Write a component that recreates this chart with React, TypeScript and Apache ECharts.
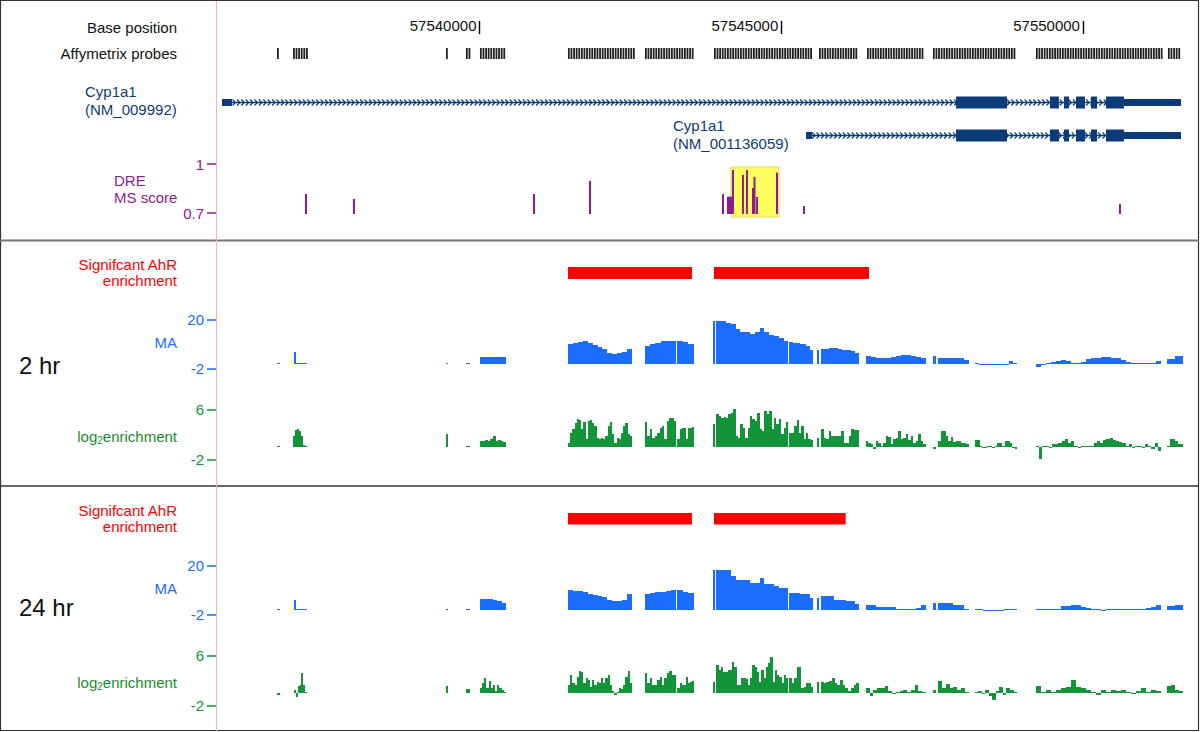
import React, { useEffect, useRef } from 'react';
import * as echarts from 'echarts';

// ---------------- data ----------------
const X_MIN = 57535634;
const X_MAX = 57551906;
const BASE_TICKS = [57540000, 57545000, 57550000];

// Affymetrix probe groups [start, end]
const PROBE_GROUPS: [number, number][] = [
  [57536645, 57536694], [57536910, 57537142], [57539445, 57539470], [57539776, 57539843],
  [57540008, 57540439], [57541466, 57542560], [57542742, 57543554], [57543886, 57545510],
  [57545626, 57546255], [57546421, 57547365], [57547514, 57548873], [57549221, 57551326],
  [57551408, 57551624],
];

// gene rows: 0 = NM_009992, 1 = NM_001136059
const GENE_SPANS: [number, number, number][] = [
  [57535733, 57551624, 0],
  [57545410, 57551624, 1],
];
const GENE_UTRS: [number, number, number][] = [
  [57535733, 57535899, 0], [57550679, 57551624, 0],
  [57545410, 57545510, 1], [57550679, 57551624, 1],
];
const GENE_CDS: [number, number][] = [
  [57547896, 57548741], [57549453, 57549602], [57549685, 57549768],
  [57549884, 57550033], [57550132, 57550232], [57550381, 57550679],
];

// DRE MS score [position, score]
const DRE_SCORES: [number, number][] = [
  [57537125, 0.816], [57537920, 0.786], [57540903, 0.816], [57541831, 0.896],
  [57544035, 0.816], [57544118, 0.80], [57544151, 0.80], [57544176, 0.80],
  [57544200, 0.964], [57544366, 0.933], [57544432, 0.964], [57544532, 0.853],
  [57544557, 0.921], [57544598, 0.798], [57544930, 0.947], [57545377, 0.743],
  [57550613, 0.755],
];
const DRE_HIGHLIGHT: [number, number, number, number][] = [[57544167, 57544963, 0.675, 0.982]];

// Significant AhR enrichment regions
const SIG_2HR: [number, number][] = [[57541466, 57543521], [57543886, 57546454]];
const SIG_24HR: [number, number][] = [[57541466, 57543521], [57543886, 57546068]];

type Seg = [number, number, number[]];

const MA_2HR: Seg[] = [
  [57536645, 57536694, [0.5]],
  [57536926, 57536959, [5.5]],
  [57536959, 57537142, [0.3]],
  [57539445, 57539478, [0.4]],
  [57539776, 57539843, [0.4]],
  [57540008, 57540439, [3.1, 3.1, 3.2, 3.1, 3.0]],
  [57541466, 57542527, [8.8, 9.6, 9.8, 10.3, 9.6, 8.5, 7.6, 6.6, 5.1, 4.6, 4.9, 5.4, 6.9]],
  [57542742, 57543264, [8.1, 8.8, 9.6, 10.3, 10.3, 10.3]],
  [57543281, 57543554, [10.3, 10.1, 8.8]],
  [57543869, 57543907, [19.3]],
  [57543924, 57545120, [19.3, 19.3, 18.5, 17.8, 15.6, 14.5, 14.5, 13.6, 14.5, 16.3, 14.5, 13.0, 12.6, 11.5, 10.3]],
  [57545137, 57545526, [10.0, 9.6, 9.6, 8.8, 8.8, 8.1, 6.1]],
  [57545592, 57545626, [6.1]],
  [57545659, 57546288, [6.6, 6.6, 7.0, 7.0, 6.6, 6.1, 6.1, 5.8, 5.1]],
  [57546404, 57547398, [3.6, 3.2, 2.8, 2.8, 2.8, 3.0, 3.6, 4.0, 4.0, 3.4, 3.1, 2.8]],
  [57547514, 57547564, [3.6]],
  [57547597, 57548111, [2.8, 2.8, 2.8, 2.6, 2.5, 1.7]],
  [57548210, 57548907, [0.6, -0.4, -0.4, -0.4, -0.4, -0.4, -0.3, -0.4, 1.3, 0.3]],
  [57549221, 57551292, [-1.3, -0.1, 0.6, 1.0, 1.3, 1.8, 1.3, 0.6, 0.1, 1.0, 2.2, 2.5, 2.8, 3.1, 3.1, 2.8, 2.5, 2.0, 1.0, 0.0, 0.0, 0.0, 0.0, 0.3, 1.3]],
  [57551392, 57551657, [2.2, 2.2, 3.6, 3.6]],
];

const LOG2_2HR: Seg[] = [
  [57536645, 57536694, [0.2]],
  [57536910, 57537142, [1.8, 2.7, 2.9, 2.5, 1.8, 0.3, 0.1]],
  [57539445, 57539478, [2.0]],
  [57539776, 57539843, [0.1]],
  [57540008, 57540439, [1.0, 1.0, 1.1, 1.0, 1.3, 1.7, 1.0, 1.1, 1.0, 0.7]],
  [57541466, 57542527, [0.6, 2.2, 2.8, 3.8, 4.5, 4.3, 2.8, 4.0, 1.2, 4.1, 4.3, 3.8, 3.3, 1.4, 1.3, 1.4, 1.2, 1.8, 3.3, 4.0, 2.0, 0.6, 1.4, 1.2, 2.2, 3.4, 3.8, 2.0, 1.7]],
  [57542742, 57543264, [4.0, 1.7, 2.8, 1.4, 1.8, 2.2, 3.0, 3.4, 1.2, 4.1, 4.6, 4.6, 4.1]],
  [57543281, 57543554, [1.2, 2.8, 3.0, 3.0, 1.2, 3.0, 3.0, 3.2]],
  [57543869, 57543907, [3.6]],
  [57543924, 57545120, [5.2, 4.9, 4.6, 4.7, 4.6, 5.2, 5.4, 6.0, 1.7, 1.4, 3.6, 3.0, 1.4, 3.0, 4.9, 4.5, 4.1, 5.4, 2.8, 2.6, 5.8, 5.2, 5.8, 2.8, 4.6, 3.6, 4.4, 2.0, 3.0, 4.0]],
  [57545137, 57545526, [2.2, 2.2, 3.4, 4.3, 2.2, 3.4, 1.2, 2.2, 1.2, 1.1]],
  [57545592, 57545626, [1.4]],
  [57545659, 57546288, [2.8, 1.4, 1.2, 2.6, 1.8, 1.8, 1.8, 1.8, 2.6, 0.6, 0.6, 1.7, 2.8, 2.7, 2.7]],
  [57546404, 57547398, [0.9, 0.6, 0.4, -0.4, 0.9, 0.6, 0.1, 0.6, 1.7, 1.6, 0.4, 1.2, 1.4, 2.5, 1.2, 1.4, 2.0, 1.1, 1.7, 0.6, 0.9, 2.0, 0.9, 0.4]],
  [57547514, 57547564, [-0.4]],
  [57547597, 57548111, [1.0, 2.5, 2.5, 1.7, 0.9, 1.6, 0.8, 1.0, 1.0, 0.6, 0.6, 0.4]],
  [57548210, 57548907, [1.1, 1.1, 0.1, -0.2, -0.2, 0.0, 0.1, -0.2, 0.2, 0.6, 0.6, 0.2, 0.9, 0.9, 0.6, -0.2, -0.4]],
  [57549221, 57551292, [0.2, -2.0, 0.1, 0.1, -0.2, 0.4, 0.5, 0.6, 0.9, 1.2, 0.6, 0.9, 0.1, -0.2, 0.0, 0.0, 0.1, 0.2, 0.6, 0.9, 0.6, 1.1, 1.2, 1.4, 1.1, 0.9, 0.7, 0.6, 0.2, 0.4, -0.2, 0.0, 0.2, -0.2, 0.5, 0.1, -0.4, 0.6, -0.7]],
  [57551392, 57551657, [0.1, 1.3, 1.3, 0.9, 0.5, 0.4]],
];

const MA_24HR: Seg[] = [
  [57536645, 57536694, [0.4]],
  [57536926, 57536959, [4.3]],
  [57536959, 57537142, [0.3]],
  [57539445, 57539478, [0.3]],
  [57539776, 57539843, [0.3]],
  [57540008, 57540439, [4.8, 4.8, 4.8, 4.3, 4.0, 3.0]],
  [57541466, 57542527, [9.1, 8.5, 8.5, 8.1, 7.3, 6.6, 6.2, 5.8, 4.6, 4.0, 4.0, 4.6, 7.0]],
  [57542742, 57543264, [7.3, 7.6, 7.9, 8.2, 8.5, 8.8]],
  [57543281, 57543554, [8.8, 8.3, 7.6]],
  [57543869, 57543907, [17.8]],
  [57543924, 57545120, [17.8, 17.8, 17.8, 15.1, 13.3, 13.3, 13.3, 12.1, 12.1, 14.5, 11.8, 11.8, 10.6, 10.0, 10.0]],
  [57545137, 57545526, [7.6, 7.6, 7.6, 7.3, 7.3, 7.3, 5.4]],
  [57545592, 57545626, [5.4]],
  [57545659, 57546288, [6.1, 6.1, 6.1, 4.6, 4.6, 4.3, 4.0, 4.0, 2.5]],
  [57546404, 57547398, [2.1, 2.1, 1.5, 1.3, 1.3, 1.3, 0.3, 0.1, 0.1, 0.1, 1.0, 2.2]],
  [57547514, 57547564, [3.0]],
  [57547597, 57548111, [3.1, 3.1, 3.1, 2.1, 2.1, 0.6]],
  [57548210, 57548907, [0.1, 0.1, -0.4, -0.4, -0.4, -0.4, -0.4, 0.1, 0.1, 0.6]],
  [57549221, 57551292, [0.6, 0.6, 0.6, 0.3, 0.1, 1.6, 1.8, 2.1, 2.1, 1.3, 1.0, 0.1, 0.1, -0.4, 0.1, 0.1, 0.1, 0.1, 0.1, 0.1, 0.1, 0.1, 1.0, 1.3, 2.1]],
  [57551392, 57551657, [1.6, 1.6, 2.1, 2.1]],
];

const LOG2_24HR: Seg[] = [
  [57536645, 57536694, [-0.4]],
  [57536926, 57537142, [0.5, -0.7, 1.1, 1.3, 3.2, 1.3, 0.2]],
  [57539445, 57539478, [1.1]],
  [57539776, 57539843, [0.6]],
  [57540008, 57540439, [0.8, 1.6, 2.4, 0.8, 1.9, 0.8, 1.2, 0.3, 1.2, 0.8, 0.5, 0.2]],
  [57541466, 57542527, [1.2, 2.8, 1.5, 1.2, 2.6, 3.5, 3.3, 1.5, 2.3, 2.0, 1.0, 2.0, 1.2, 1.8, 1.5, 2.3, 1.5, 2.3, 2.8, 1.2, 0.3, -0.4, 0.2, 0.7, 0.6, 1.2, 2.6, 3.5, 1.5]],
  [57542742, 57543264, [3.1, 1.5, 2.3, 1.2, 1.2, 2.0, 2.6, 1.2, 2.3, 3.1, 3.5, 2.8, 2.8]],
  [57543281, 57543554, [0.8, 1.5, 1.2, 1.2, 2.6, 1.5, 1.8, 1.9]],
  [57543869, 57543907, [1.8]],
  [57543924, 57545120, [4.4, 3.6, 4.2, 3.4, 3.3, 3.6, 3.6, 4.9, 4.2, 1.2, 1.2, 2.3, 2.3, 2.2, 1.2, 2.3, 4.5, 4.2, 3.4, 1.8, 3.6, 2.3, 4.2, 4.7, 5.8, 1.8, 3.6, 2.8, 2.6, 1.5, 2.8, 2.4]],
  [57545137, 57545526, [2.3, 1.5, 2.3, 4.2, 4.2, 0.7, 1.0, 1.5, 1.5, 1.0]],
  [57545592, 57545626, [1.7]],
  [57545659, 57546288, [1.7, 1.5, 1.8, 1.9, 2.4, 1.5, 1.2, 2.0, 1.2, 0.7, 0.3, 0.7, 1.2, 1.5]],
  [57546404, 57547398, [0.8, -0.5, 0.5, 0.8, 0.8, 1.1, 0.3, -0.2, 0.0, 0.3, 0.4, 0.2, 0.5, 1.2, 0.3, 0.2]],
  [57547514, 57547564, [0.4]],
  [57547597, 57548111, [1.9, 0.8, 1.4, 0.8, 0.9, 0.5, 0.8, 0.2]],
  [57548210, 57548907, [0.2, 0.3, -0.2, 0.5, -0.5, -1.1, 0.3, 0.9, -0.3, 0.8, 0.5, 0.2]],
  [57549221, 57551292, [1.1, 0.2, 0.5, 0.2, 0.5, 0.8, 0.9, 2.0, 0.9, 0.7, 0.4, 0.2, -0.3, 0.5, 0.2, 0.5, 0.3, 0.5, 0.2, -0.2, 0.3, 0.8, 0.2, 0.5, 0.3]],
  [57551392, 57551657, [1.1, 1.3, 0.5, 0.3]],
];

const DRE_TICKS = [0.7, 1];
const MA_TICKS = [-2, 20];
const LOG2_TICKS = [-2, 6];

// ---------------- styling ----------------
const FONT = '"Liberation Sans", Arial, Helvetica, sans-serif';
const FS = 15;
const GENE_COLOR = '#0c3c78';
const PURPLE = '#8f1b8f';
const RED = '#ff0000';
const BLUE = '#1a6dff';
const GREEN = '#129438';
const GREEN_TXT = '#1b8c30';
const GRID_LEFT = 216;
const GRID_WIDTH = 982;

function binsOf(segs: Seg[]) {
  const out: number[][] = [];
  for (const [s, e, vals] of segs) {
    const w = (e - s) / vals.length;
    vals.forEach((v, i) => out.push([s + i * w, s + (i + 1) * w, v]));
  }
  return out;
}

function signalSeries(xi: number, segs: Seg[], color: string) {
  return {
    type: 'custom',
    xAxisIndex: xi,
    yAxisIndex: xi,
    data: binsOf(segs),
    encode: { x: [0, 1], y: 2 },
    renderItem: (_p: any, api: any) => {
      const v = api.value(2);
      const a = api.coord([api.value(0), 0]);
      const b = api.coord([api.value(1), v]);
      const x0 = Math.round(a[0]);
      let x1 = Math.round(b[0]);
      if (x1 <= x0) x1 = x0 + 1;
      const base = Math.round(a[1]);
      let top = Math.round(b[1]);
      if (Math.abs(top - base) < 1) top = v >= 0 ? base - 1 : base + 1;
      return {
        type: 'rect',
        shape: { x: x0, y: Math.min(base, top), width: x1 - x0, height: Math.abs(top - base) },
        style: { fill: color },
      };
    },
  };
}

function regionSeries(xi: number, regions: [number, number][], color: string) {
  return {
    type: 'custom',
    xAxisIndex: xi,
    yAxisIndex: xi,
    data: regions,
    encode: { x: [0, 1] },
    renderItem: (_p: any, api: any) => {
      const a = api.coord([api.value(0), 0]);
      const b = api.coord([api.value(1), 1]);
      return {
        type: 'rect',
        shape: { x: a[0], y: b[1], width: b[0] - a[0], height: a[1] - b[1] },
        style: { fill: color },
      };
    },
  };
}

function hiddenX(gi: number) {
  return { type: 'value', gridIndex: gi, min: X_MIN, max: X_MAX, show: false };
}

function scoreY(gi: number, min: number, max: number, ticks: number[], color: string) {
  return {
    type: 'value',
    gridIndex: gi,
    min,
    max,
    axisLine: { show: false },
    splitLine: { show: false },
    axisTick: { show: true, customValues: ticks, length: 9, lineStyle: { color, width: 1.5 } },
    axisLabel: {
      customValues: ticks,
      color,
      fontSize: FS,
      fontFamily: FONT,
      margin: 12,
      formatter: (v: number) => String(v),
    },
  };
}

function hiddenY(gi: number, min = 0, max = 1, inverse = false) {
  return { type: 'value', gridIndex: gi, min, max, inverse, show: false };
}

function label(text: string, x: number, y: number, fill: string, align = 'right', size = FS) {
  return {
    type: 'text',
    x,
    y,
    z: 10,
    style: {
      text,
      fill,
      fontSize: size,
      fontFamily: FONT,
      textAlign: align,
      textVerticalAlign: 'middle',
    },
  };
}

function log2Label(y: number) {
  return {
    type: 'text',
    x: 177,
    y,
    z: 10,
    style: {
      text: '{a|log}{b|2}{a|enrichment}',
      fill: GREEN_TXT,
      textAlign: 'right',
      textVerticalAlign: 'middle',
      rich: {
        a: { fontSize: FS, fontFamily: FONT, fill: GREEN_TXT, lineHeight: 18, verticalAlign: 'middle' },
        b: { fontSize: 10, fontFamily: FONT, fill: GREEN_TXT, lineHeight: 10, verticalAlign: 'bottom' },
      },
    },
  };
}

export default function App() {
  const ref = useRef<HTMLDivElement>(null);

  useEffect(() => {
    if (!ref.current) return;
    const chart = echarts.init(ref.current, undefined, { renderer: 'svg' });

    const grids = [
      { top: 20, height: 14 }, // 0 base position
      { top: 48, height: 11 }, // 1 probes
      { top: 102.5, height: 33 }, // 2 genes
      { top: 164, height: 49 }, // 3 DRE
      { top: 267, height: 12 }, // 4 sig 2hr
      { top: 319.5, height: 49 }, // 5 MA 2hr
      { top: 409.3, height: 50 }, // 6 log2 2hr
      { top: 513, height: 11.5 }, // 7 sig 24hr
      { top: 565.5, height: 49 }, // 8 MA 24hr
      { top: 655.3, height: 50 }, // 9 log2 24hr
    ].map((g) => ({ left: GRID_LEFT, width: GRID_WIDTH, top: g.top, height: g.height, containLabel: false }));

    const xAxes: any[] = grids.map((_, i) => hiddenX(i));
    xAxes[0] = {
      type: 'value',
      gridIndex: 0,
      min: X_MIN,
      max: X_MAX,
      position: 'bottom',
      axisLine: { show: false },
      splitLine: { show: false },
      axisTick: { show: true, inside: true, length: 13, customValues: BASE_TICKS, lineStyle: { color: '#000', width: 1.4 } },
      axisLabel: {
        customValues: BASE_TICKS,
        inside: true,
        margin: 1,
        align: 'right',
        verticalAlign: 'bottom',
        padding: [0, 3, 0, 0],
        color: '#111',
        fontSize: FS,
        fontFamily: FONT,
        formatter: (v: number) => String(v),
      },
    };

    const yAxes: any[] = [
      hiddenY(0),
      hiddenY(1),
      hiddenY(2, 0, 1, true),
      scoreY(3, 0.7, 1, DRE_TICKS, PURPLE),
      hiddenY(4),
      scoreY(5, -2, 20, MA_TICKS, BLUE),
      scoreY(6, -2, 6, LOG2_TICKS, GREEN),
      hiddenY(7),
      scoreY(8, -2, 20, MA_TICKS, BLUE),
      scoreY(9, -2, 6, LOG2_TICKS, GREEN),
    ];

    const probeSeries = {
      type: 'custom',
      xAxisIndex: 1,
      yAxisIndex: 1,
      data: PROBE_GROUPS,
      encode: { x: [0, 1] },
      renderItem: (_p: any, api: any) => {
        const a = api.coord([api.value(0), 0]);
        const b = api.coord([api.value(1), 1]);
        const children: any[] = [];
        for (let x = a[0]; x <= b[0] - 1; x += 2.6) {
          children.push({
            type: 'rect',
            shape: { x, y: b[1], width: 1.8, height: a[1] - b[1] },
            style: { fill: '#222' },
          });
        }
        if (!children.length) {
          children.push({ type: 'rect', shape: { x: a[0], y: b[1], width: 1.8, height: a[1] - b[1] }, style: { fill: '#222' } });
        }
        return { type: 'group', children };
      },
    };

    const geneParts: number[][] = [
      ...GENE_SPANS.map(([s, e, r]) => [s, e, r, 0]),
      ...GENE_UTRS.map(([s, e, r]) => [s, e, r, 1]),
      ...GENE_CDS.map(([s, e]) => [s, e, 0, 2]),
      ...GENE_CDS.map(([s, e]) => [s, e, 1, 2]),
    ];

    const geneSeries = {
      type: 'custom',
      xAxisIndex: 2,
      yAxisIndex: 2,
      data: geneParts,
      encode: { x: [0, 1], y: 2 },
      renderItem: (_p: any, api: any) => {
        const kind = api.value(3);
        const row = api.value(2);
        const a = api.coord([api.value(0), row]);
        const b = api.coord([api.value(1), row]);
        const y = a[1];
        if (kind === 0) {
          const children: any[] = [
            { type: 'line', shape: { x1: a[0], y1: y, x2: b[0], y2: y }, style: { stroke: GENE_COLOR, lineWidth: 1.6 } },
          ];
          for (let x = a[0] + 8; x < b[0] - 2; x += 4.4) {
            children.push({
              type: 'polyline',
              shape: { points: [[x - 1.8, y - 3], [x + 1, y], [x - 1.8, y + 3]] },
              style: { stroke: GENE_COLOR, lineWidth: 1.2, fill: 'none' },
            });
          }
          return { type: 'group', children };
        }
        const h = kind === 2 ? 12 : 7;
        return {
          type: 'rect',
          shape: { x: a[0], y: y - h / 2, width: b[0] - a[0], height: h },
          style: { fill: GENE_COLOR },
        };
      },
    };

    const highlightSeries = {
      type: 'custom',
      xAxisIndex: 3,
      yAxisIndex: 3,
      data: DRE_HIGHLIGHT,
      encode: { x: [0, 1], y: [2, 3] },
      z: 1,
      renderItem: (_p: any, api: any) => {
        const a = api.coord([api.value(0), api.value(2)]);
        const b = api.coord([api.value(1), api.value(3)]);
        return {
          type: 'rect',
          shape: { x: a[0], y: b[1], width: b[0] - a[0], height: a[1] - b[1] },
          style: { fill: '#ffff5e', stroke: '#e6d36a', lineWidth: 1 },
        };
      },
    };

    const dreSeries = {
      type: 'custom',
      xAxisIndex: 3,
      yAxisIndex: 3,
      data: DRE_SCORES,
      encode: { x: 0, y: 1 },
      z: 3,
      renderItem: (_p: any, api: any) => {
        const base = api.coord([api.value(0), 0.7]);
        const top = api.coord([api.value(0), api.value(1)]);
        return {
          type: 'rect',
          shape: { x: base[0] - 1, y: top[1], width: 2, height: base[1] + 1 - top[1] },
          style: { fill: PURPLE },
        };
      },
    };

    const series: any[] = [
      probeSeries,
      geneSeries,
      highlightSeries,
      dreSeries,
      regionSeries(4, SIG_2HR, RED),
      signalSeries(5, MA_2HR, BLUE),
      signalSeries(6, LOG2_2HR, GREEN),
      regionSeries(7, SIG_24HR, RED),
      signalSeries(8, MA_24HR, BLUE),
      signalSeries(9, LOG2_24HR, GREEN),
    ];

    const graphic: any[] = [
      { type: 'rect', shape: { x: 0.5, y: 0.5, width: 1198, height: 730 }, style: { fill: 'none', stroke: '#333', lineWidth: 1.2 }, z: 20 },
      { type: 'line', shape: { x1: 0, y1: 240.5, x2: 1199, y2: 240.5 }, style: { stroke: '#777', lineWidth: 2 }, z: 20 },
      { type: 'line', shape: { x1: 0, y1: 486, x2: 1199, y2: 486 }, style: { stroke: '#333', lineWidth: 1.5 }, z: 20 },
      { type: 'line', shape: { x1: 216.5, y1: 1, x2: 216.5, y2: 731 }, style: { stroke: '#f7b3bd', lineWidth: 1 }, z: 20 },
      label('Base position', 177, 27, '#111'),
      label('Affymetrix probes', 177, 53, '#111'),
      label('Cyp1a1', 85, 91, GENE_COLOR, 'left'),
      label('(NM_009992)', 85, 109, GENE_COLOR, 'left'),
      label('Cyp1a1', 673, 125, GENE_COLOR, 'left'),
      label('(NM_001136059)', 673, 143, GENE_COLOR, 'left'),
      label('DRE', 114, 180, PURPLE, 'left'),
      label('MS score', 114, 197, PURPLE, 'left'),
      label('Signifcant AhR', 177, 264, RED),
      label('enrichment', 177, 280, RED),
      label('MA', 177, 342, BLUE),
      label('2 hr', 19, 365, '#111', 'left', 24),
      log2Label(436),
      label('Signifcant AhR', 177, 510, RED),
      label('enrichment', 177, 526, RED),
      label('MA', 177, 588, BLUE),
      label('24 hr', 19, 607, '#111', 'left', 24),
      log2Label(682),
    ];

    chart.setOption({
      animation: false,
      backgroundColor: '#ffffff',
      grid: grids,
      xAxis: xAxes,
      yAxis: yAxes,
      series,
      graphic,
    });

    return () => chart.dispose();
  }, []);

  return <div ref={ref} style={{ position: 'fixed', left: 0, top: 0, width: 1200, height: 732 }} />;
}
